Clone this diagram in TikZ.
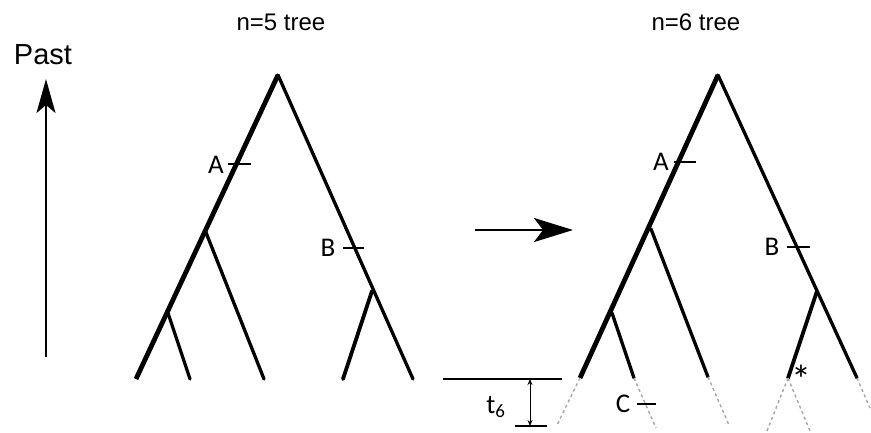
\documentclass[tikz,border=0pt]{standalone}
\usepackage{fontspec}
\setmainfont{Liberation Sans}
\newfontfamily\labfont{Carlito}
\usetikzlibrary{positioning, arrows.meta}

\begin{document}
\begin{tikzpicture}[
    x=1pt, y=-1pt,
    branch/.style = {line width=3.3pt, line cap=round},
    trunk/.style  = {line width=4.8pt},
    ghost/.style  = {line width=1.4pt, gray!70, dash pattern=on 3pt off 3pt},
    mut/.style    = {line width=2.8pt},
    mlab/.style   = {font=\labfont\fontsize{27}{27}\selectfont, inner sep=0pt},
    title/.style  = {font=\fontsize{24}{24}\selectfont, inner sep=0pt},
    bigarrow/.style = {-{Stealth[length=39pt, width=24pt, inset=9pt]}, line width=2.5pt},
  ]
    \useasboundingbox (0,0) rectangle (871,432);

    % --- time axis ---
    \node[font=\fontsize{29}{29}\selectfont, inner sep=0pt] (past) at (43,55) {Past};
    \coordinate (pbot) at (46,357);
    \coordinate (ptop) at (46,79);
    \draw[-{Stealth[length=34pt, width=19pt, inset=8pt]}, line width=2pt] (pbot) -- (ptop);

    % --- titles ---
    \node[title] (t5) at (281,22) {n=5 tree};
    \node[title] (t6) at (696,22) {n=6 tree};

    % --- n=5 tree ---
    \coordinate (r5) at (278,75);
    \coordinate (i5) at (205,230);
    \coordinate (s5) at (168,313);
    \coordinate (j5) at (372,291);
    \coordinate (a1) at (136,379);
    \coordinate (a2) at (190,379);
    \coordinate (a3) at (264,379);
    \coordinate (a4) at (343,379);
    \coordinate (a5) at (413,379);
    \draw[trunk]  (r5) -- (a1);
    \draw[branch] (r5) -- (a5);
    \draw[branch] (i5) -- (a3);
    \draw[branch] (s5) -- (a2);
    \draw[branch, line width=3.8pt] (j5) -- (a4);

    % --- mutations on the n=5 tree ---
    \coordinate (ma1) at (228,164); \coordinate (ma2) at (251,164);
    \coordinate (mb1) at (343,248); \coordinate (mb2) at (364,248);
    \draw[mut] (ma1) -- (ma2);
    \draw[mut] (mb1) -- (mb2);
    \node[mlab] (la5) at (216,165) {A};
    \node[mlab] (lb5) at (328,248) {B};

    % --- step to the next tree ---
    \coordinate (go1) at (475,230);
    \coordinate (go2) at (573,230);
    \draw[bigarrow] (go1) -- (go2);

    % --- n=6 tree ---
    \coordinate (r6) at (718,75);
    \coordinate (i6) at (651,229);
    \coordinate (s6) at (612,313);
    \coordinate (j6) at (817,291);
    \coordinate (b1) at (580,378);
    \coordinate (b2) at (634,378);
    \coordinate (b3) at (708,377);
    \coordinate (b4) at (788,378);
    \coordinate (b5) at (857,378);
    \draw[trunk]  (r6) -- (b1);
    \draw[branch] (r6) -- (b5);
    \draw[branch] (i6) -- (b3);
    \draw[branch] (s6) -- (b2);
    \draw[branch, line width=3.8pt] (j6) -- (b4);

    % --- recent part of the n=6 tree ---
    \coordinate (e1) at (557,425);
    \coordinate (e2) at (656,428);
    \coordinate (e3) at (729,425);
    \coordinate (e4) at (767,431);
    \coordinate (e5) at (810,431);
    \coordinate (e6) at (870,408);
    \draw[ghost] (b1) -- (e1);
    \draw[ghost] (b2) -- (e2);
    \draw[ghost] (b3) -- (e3);
    \draw[ghost] (b4) -- (e4);
    \draw[ghost] (b4) -- (e5);
    \draw[ghost] (b5) -- (e6);

    % --- mutations on the n=6 tree ---
    \coordinate (na1) at (674,162); \coordinate (na2) at (696,162);
    \coordinate (nb1) at (787,247); \coordinate (nb2) at (810,247);
    \coordinate (nc1) at (637,404); \coordinate (nc2) at (656,404);
    \draw[mut] (na1) -- (na2);
    \draw[mut] (nb1) -- (nb2);
    \draw[mut] (nc1) -- (nc2);
    \node[mlab] (la6) at (661,162) {A};
    \node[mlab] (lb6) at (772,247) {B};
    \node[mlab] (lc6) at (623,404) {C};
    \node[mlab, font=\labfont\fontsize{40}{40}\selectfont] (star) at (801,379) {*};

    % --- time t6 ---
    \coordinate (h1) at (443,379); \coordinate (h2) at (562,379);
    \coordinate (g1) at (515,426); \coordinate (g2) at (547,426);
    \coordinate (d1) at (530,379); \coordinate (d2) at (530,426);
    \draw[line width=1.2pt] (h1) -- (h2);
    \draw[line width=1.2pt] (g1) -- (g2);
    \draw[{Stealth[length=6pt, width=5pt]}-{Stealth[length=6pt, width=5pt]}, line width=1pt] (d1) -- (d2);
    \node[mlab] (tsix) at (496,407) {t\textsubscript{6}};
  \end{tikzpicture}
\end{document}
